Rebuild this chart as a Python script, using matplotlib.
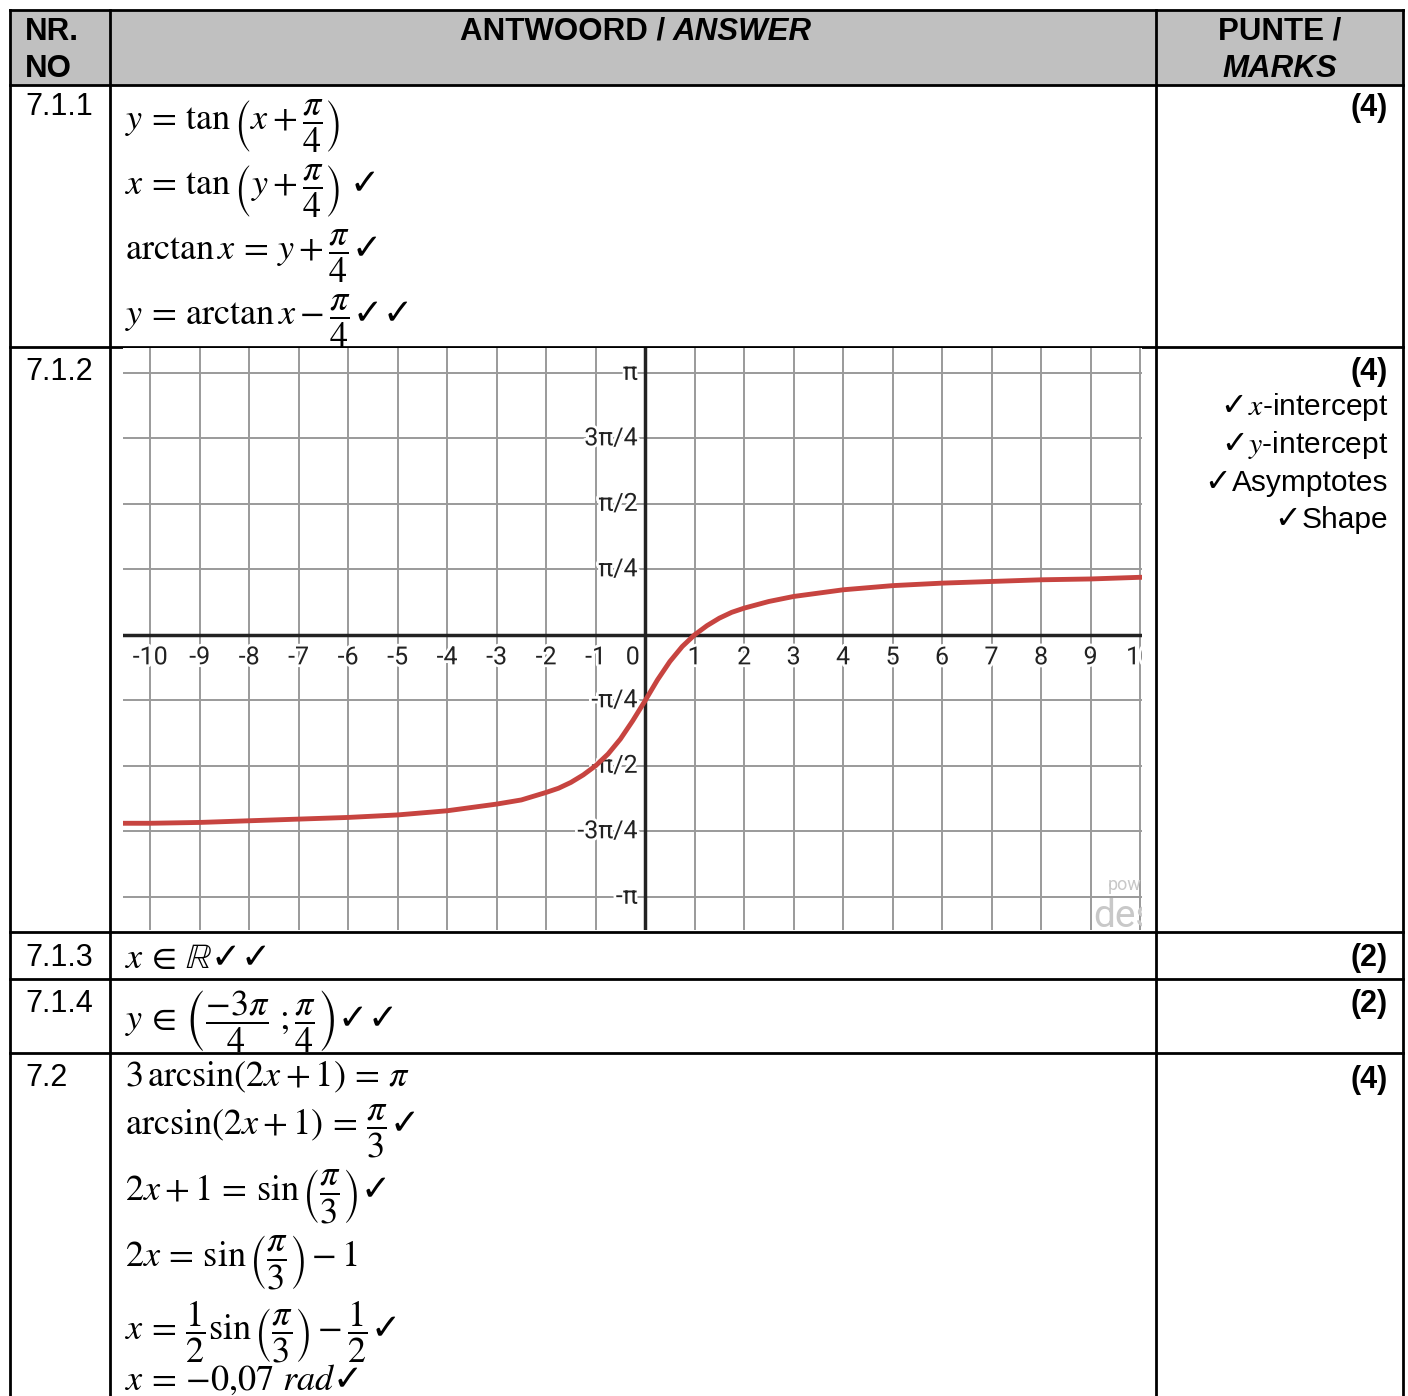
import numpy as np
import matplotlib
matplotlib.use("Agg")
import matplotlib.pyplot as plt
import matplotlib.patheffects as pe

plt.rcParams['mathtext.fontset'] = 'stix'
plt.rcParams['font.family'] = ['Liberation Sans', 'DejaVu Sans']

W, H = 1408, 1396

# curve (x, y)
curve_x = [-10.8, -10, -9, -8, -7, -6, -5, -4, -3, -2.5, -2, -1.75, -1.5, -1.25, -1,
           -0.75, -0.5, -0.25, 0, 0.25, 0.5, 0.75, 1, 1.25, 1.5, 1.75, 2, 2.5, 3,
           4, 5, 6, 7, 8, 9, 10, 10.3]
curve_y = [-2.26, -2.26, -2.25, -2.23, -2.21, -2.19, -2.16, -2.11, -2.03, -1.98, -1.89,
           -1.84, -1.77, -1.68, -1.57, -1.43, -1.25, -1.03, -0.79, -0.54, -0.32, -0.14,
           0.0, 0.11, 0.20, 0.27, 0.32, 0.40, 0.46, 0.54, 0.59, 0.62, 0.64, 0.66, 0.67,
           0.69, 0.69]

x_ticks = list(range(-10, 11))
y_quarters = [-4, -3, -2, -1, 1, 2, 3, 4]
y_tick_labels = ['-π', '-3π/4', '-π/2', '-π/4', 'π/4', 'π/2', '3π/4', 'π']

nr_labels = ['7.1.1', '7.1.2', '7.1.3', '7.1.4', '7.2']
mark_labels = ['(4)', '(4)', '(2)', '(2)', '(4)']

ans_711 = [r'$y\,=\,\tan\left(x+\dfrac{\pi}{4}\right)$',
           r'$x\,=\,\tan\left(y+\dfrac{\pi}{4}\right)\;$✓',
           r'$\arctan x\,=\,y+\dfrac{\pi}{4}$✓',
           r'$y\,=\,\arctan x-\dfrac{\pi}{4}$✓✓']
ans_713 = r'$x\,\in\,\mathbb{R}$✓✓'
ans_714 = r'$y\,\in\,\left(\dfrac{-3\pi}{4}\ ;\dfrac{\pi}{4}\right)$✓✓'
ans_72 = [r'$3\,\arcsin(2x+1)\,=\,\pi$',
          r'$\arcsin(2x+1)\,=\,\dfrac{\pi}{3}$✓',
          r'$2x+1\,=\,\sin\left(\dfrac{\pi}{3}\right)$✓',
          r'$2x\,=\,\sin\left(\dfrac{\pi}{3}\right)-1$',
          r'$x\,=\,\dfrac{1}{2}\sin\left(\dfrac{\pi}{3}\right)-\dfrac{1}{2}$✓',
          r'$x\,=\,{-}0{,}07\ rad$✓']
crit_712 = ['$x$-intercept', '$y$-intercept', 'Asymptotes', 'Shape']

fig = plt.figure(figsize=(W / 100, H / 100), dpi=100)
bg = fig.add_axes([0, 0, 1, 1])
bg.set_xlim(0, W)
bg.set_ylim(H, 0)
bg.axis('off')
renderer = fig.canvas.get_renderer()

# table
L, C1, C2, R = 10, 110, 1156, 1403
rows = [10, 85, 347, 932, 979, 1053]
bg.fill_between([L, R], 10, 85, color='#c0c0c0', zorder=0)
for y in rows:
    bg.plot([L, R], [y, y], color='black', lw=2, solid_capstyle='projecting')
for x in [L, C1, C2, R]:
    bg.plot([x, x], [10, H + 5], color='black', lw=2)

# header
hsize = 22.5
bg.text(25, 40, 'NR.', fontsize=hsize, weight='bold', va='baseline')
bg.text(25, 77, 'NO', fontsize=hsize, weight='bold', va='baseline')
bg.text(665, 40, 'ANTWOORD /', fontsize=hsize, weight='bold', va='baseline', ha='right')
bg.text(673, 40, 'ANSWER', fontsize=hsize, weight='bold', style='italic', va='baseline')
bg.text(1280, 40, 'PUNTE /', fontsize=hsize, weight='bold', va='baseline', ha='center')
bg.text(1280, 77, 'MARKS', fontsize=hsize, weight='bold', style='italic', va='baseline', ha='center')

nr_y = [115, 380, 966, 1012, 1086]
for lab, y in zip(nr_labels, nr_y):
    bg.text(25, y, lab, fontsize=22, va='baseline')
mk_y = [116, 380, 966, 1012, 1088]
for lab, y in zip(mark_labels, mk_y):
    bg.text(1388, y, lab, fontsize=22, weight='bold', va='baseline', ha='right')
inv = bg.transData.inverted()
for lab, y in zip(crit_712, [415, 453, 491, 528]):
    t = bg.text(1388, y, lab, fontsize=21.5, va='baseline', ha='right')
    left = inv.transform(t.get_window_extent(renderer))[0][0]
    bg.text(left, y, '✓', fontsize=23, va='baseline', ha='right', family=['DejaVu Sans'])

msize = 26
for s, y in zip(ans_711, [130, 195, 260, 325]):
    bg.text(125, y, s, fontsize=msize, va='baseline', family=['DejaVu Sans'])
bg.text(125, 968, ans_713, fontsize=msize, va='baseline', family=['DejaVu Sans'])
bg.text(125, 1030, ans_714, fontsize=msize, va='baseline', family=['DejaVu Sans'])
for s, y in zip(ans_72, [1086, 1135, 1200, 1266, 1340, 1390]):
    bg.text(125, y, s, fontsize=msize, va='baseline', family=['DejaVu Sans'])

# desmos graph
gx0, gx1, gy0, gy1 = 123, 1142, 348, 930
ax = fig.add_axes([gx0 / W, 1 - gy1 / H, (gx1 - gx0) / W, (gy1 - gy0) / H])
ax.set_xlim(-10.55, 10.04)
ax.set_ylim(-3.54, 3.44)
for s in ax.spines.values():
    s.set_visible(False)
ax.set_xticks([])
ax.set_yticks([])
y_ticks = [q * np.pi / 4 for q in y_quarters]
for x in x_ticks:
    ax.axvline(x, color='#9a9a9a', lw=1.4, zorder=1)
for y in y_ticks:
    ax.axhline(y, color='#9a9a9a', lw=1.4, zorder=1)
ax.axhline(0, color='#222222', lw=2.5, zorder=2)
ax.axvline(0, color='#222222', lw=2.5, zorder=2)

lab_font = ['Liberation Sans Narrow', 'Roboto', 'DejaVu Sans']
halo = [pe.withStroke(linewidth=4, foreground='white')]
for x in x_ticks:
    xx = -0.25 if x == 0 else x
    ax.text(xx, -0.27, str(x), fontsize=18, ha='center', va='center', family=lab_font,
            color='#222222', path_effects=halo, zorder=3, clip_on=True)
for y, lab in zip(y_ticks, y_tick_labels):
    ax.text(-0.15, y, lab, fontsize=18, ha='right', va='center', family=lab_font,
            color='#222222', path_effects=halo, zorder=3)

ax.plot(curve_x, curve_y, color='#c74440', lw=3.5, zorder=4, solid_capstyle='round')

ax.text(9.35, -3.0, 'pow', fontsize=13, color='#c8c8c8', family=lab_font, va='center', clip_on=True)
ax.text(9.05, -3.38, 'des', fontsize=28, color='#c8c8c8', family=lab_font, va='center', clip_on=True)

fig.savefig('out.png', dpi=100)
